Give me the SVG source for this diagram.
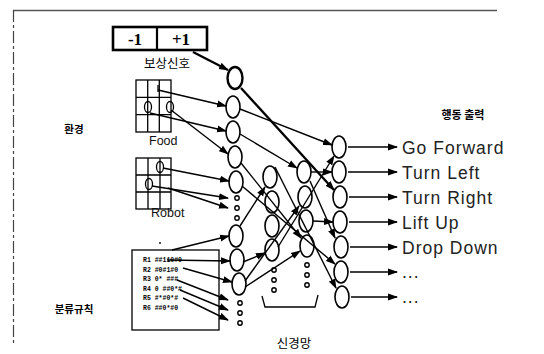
<svg xmlns="http://www.w3.org/2000/svg" width="544" height="354" viewBox="0 0 544 354">
<defs>
<marker id="ah" markerUnits="userSpaceOnUse" markerWidth="10" markerHeight="8" refX="9" refY="4" orient="auto">
<path d="M0,0.5 L10,4 L0,7.5 Z" fill="#000"/>
</marker>
<style>
.n{fill:#fff;stroke:#000;stroke-width:1.6}
.d{fill:#fff;stroke:#000;stroke-width:1.4}
.c line{stroke:#000;stroke-width:1.4;marker-end:url(#ah)}
.c line.t{stroke-width:2.3}
.k{font-family:"Noto Sans CJK KR","Noto Sans CJK SC",sans-serif;fill:#000}
.e{font-family:"Liberation Sans",Arial,sans-serif;fill:#111}
.o{font-family:"Liberation Sans",Arial,sans-serif;fill:#222;font-size:17.5px;letter-spacing:1px}
.g{fill:none;stroke:#000;stroke-width:1.3}
.r{font-family:"Liberation Mono",monospace;font-size:6.5px;fill:#000;font-weight:bold}
</style>
</defs>
<rect width="544" height="354" fill="#fff"/>
<g id="frame">
<line x1="13" y1="10.5" x2="497" y2="10.5" stroke="#555" stroke-width="1.5"/>
<line x1="13.5" y1="10" x2="13.5" y2="346" stroke="#444" stroke-width="1.2" stroke-dasharray="12 3 3 3"/>
</g>
<g id="reward">
<rect x="113" y="27" width="94" height="23" fill="#fff" stroke="#000" stroke-width="2.6"/>
<line x1="157" y1="27" x2="157" y2="50" stroke="#000" stroke-width="2.2"/>
<text x="135" y="45" text-anchor="middle" font-family="Liberation Serif,serif" font-weight="bold" font-size="17">-1</text>
<text x="181" y="45" text-anchor="middle" font-family="Liberation Serif,serif" font-weight="bold" font-size="17">+1</text>
<text class="k" x="167" y="68" text-anchor="middle" font-size="12.5">보상신호</text>
</g>
<g id="env-label"><text class="k" x="74" y="133" text-anchor="middle" font-size="10.5" font-weight="bold">환경</text></g>
<g id="rules-label"><text class="k" x="74" y="313" text-anchor="middle" font-size="10.5" font-weight="bold">분류규칙</text></g>
<g id="net-label"><text class="k" x="294" y="348" text-anchor="middle" font-size="12.5">신경망</text></g>
<g id="out-label"><text class="k" x="463" y="119" text-anchor="middle" font-size="11" font-weight="bold">행동 출력</text></g>
<g id="food">
<rect class="g" x="136" y="80" width="35" height="52"/>
<path class="g" d="M147.7,80V132M159.3,80V132M136,97.3H171M136,114.7H171"/>
<line x1="158" y1="85" x2="158" y2="92" stroke="#000" stroke-width="1.3"/>
<ellipse class="g" cx="148" cy="107" rx="3.5" ry="5.5"/>
<ellipse class="g" cx="170" cy="107" rx="3.5" ry="5.5"/>
<text class="e" x="149" y="145" font-size="12.5">Food</text>
</g>
<g id="robot">
<rect class="g" x="136" y="158" width="35" height="51"/>
<path class="g" d="M148,158V209M160,158V209M136,175H171M136,192H171"/>
<ellipse class="g" cx="160" cy="167" rx="3.5" ry="5.5"/>
<ellipse class="g" cx="149" cy="184" rx="3.5" ry="5.5"/>
<text class="e" x="151" y="217" font-size="12.5">Robot</text>
</g>
<g id="rules">
<circle cx="160" cy="243" r="0.9" fill="#000"/>
<rect x="132" y="250" width="87" height="80" fill="#fff" stroke="#000" stroke-width="1.3"/>
<text class="r" x="143" y="262">R1  ##110#0</text>
<text class="r" x="143" y="271.5">R2  #0#1#0</text>
<text class="r" x="143" y="281">R3  0* ###</text>
<text class="r" x="143" y="290.5">R4  0 ##0*#</text>
<text class="r" x="143" y="300">R5  #*#0*#</text>
<text class="r" x="143" y="309.5">R6  ##0*#0</text>
</g>
<g id="input-layer">
<ellipse id="n1" cx="235" cy="78" rx="7.5" ry="11" fill="#fff" stroke="#000" stroke-width="2.4"/>
<ellipse id="n2" class="n" cx="233" cy="107" rx="7" ry="11"/>
<ellipse id="n3" class="n" cx="233" cy="132" rx="7" ry="11"/>
<ellipse id="n4" class="n" cx="235" cy="157" rx="7" ry="11"/>
<ellipse id="n5" class="n" cx="236" cy="182" rx="7" ry="11"/>
<circle class="d" cx="237" cy="198" r="2.2"/><circle class="d" cx="237" cy="208" r="2.2"/><circle class="d" cx="237" cy="218" r="2.2"/>
<ellipse id="n6" class="n" cx="236" cy="236" rx="7" ry="11"/>
<ellipse id="n7" class="n" cx="237" cy="260" rx="7" ry="11"/>
<ellipse id="n8" class="n" cx="239" cy="284" rx="7" ry="11"/>
<circle class="d" cx="240" cy="303" r="2.2"/><circle class="d" cx="240" cy="313" r="2.2"/><circle class="d" cx="240" cy="323" r="2.2"/>
</g>
<g id="hidden-1">
<ellipse id="h1" class="n" cx="270" cy="177" rx="7" ry="11"/>
<ellipse id="h2" class="n" cx="272" cy="202" rx="7" ry="11"/>
<ellipse id="h3" class="n" cx="272" cy="226" rx="7" ry="11"/>
<ellipse id="h4" class="n" cx="272" cy="250" rx="7" ry="11"/>
<circle class="d" cx="274" cy="270" r="2.2"/><circle class="d" cx="274" cy="280" r="2.2"/><circle class="d" cx="274" cy="290" r="2.2"/>
</g>
<g id="hidden-2">
<ellipse id="k1" class="n" cx="304" cy="172" rx="7" ry="11"/>
<ellipse id="k2" class="n" cx="305" cy="197" rx="7" ry="11"/>
<ellipse id="k3" class="n" cx="306" cy="221" rx="7" ry="11"/>
<ellipse id="k4" class="n" cx="307" cy="246" rx="7" ry="11"/>
<circle class="d" cx="307" cy="265" r="2.2"/><circle class="d" cx="307" cy="275" r="2.2"/><circle class="d" cx="307" cy="285" r="2.2"/>
</g>
<g id="bracket"><path class="g" d="M262,296 L265,307 L315,307 L318,295"/></g>
<g id="output-layer">
<ellipse id="o1" class="n" cx="339" cy="147" rx="7" ry="11"/>
<ellipse id="o2" class="n" cx="339" cy="172" rx="7" ry="11"/>
<ellipse id="o3" class="n" cx="340" cy="197" rx="7" ry="11"/>
<ellipse id="o4" class="n" cx="340" cy="222" rx="7" ry="11"/>
<ellipse id="o5" class="n" cx="341" cy="247" rx="7" ry="11"/>
<ellipse id="o6" class="n" cx="341" cy="272" rx="7" ry="11"/>
<ellipse id="o7" class="n" cx="342" cy="297" rx="7" ry="11"/>
</g>
<g id="actions">
<text id="a1" class="o" x="402" y="154">Go Forward</text>
<text id="a2" class="o" x="402" y="179">Turn Left</text>
<text id="a3" class="o" x="402" y="204">Turn Right</text>
<text id="a4" class="o" x="402" y="229">Lift Up</text>
<text id="a5" class="o" x="402" y="254">Drop Down</text>
<text id="a6" class="o" x="402" y="278" font-size="13" letter-spacing="2">...</text>
<text id="a7" class="o" x="402" y="303" font-size="13" letter-spacing="2">...</text>
</g>
<g id="connectors" class="c">
<line class="t" x1="193" y1="52" x2="228" y2="70"/>
<line class="t" x1="241" y1="88" x2="334" y2="190"/>
<line x1="240" y1="109" x2="332" y2="145"/>
<line x1="240" y1="134" x2="297" y2="168"/>
<line x1="241" y1="163" x2="301" y2="238"/>
<line x1="242" y1="186" x2="335" y2="264"/>
<line x1="275" y1="167" x2="336" y2="288"/>
<line x1="240" y1="226" x2="265" y2="187"/>
<line x1="243" y1="262" x2="265" y2="253"/>
<line x1="245" y1="287" x2="300" y2="251"/>
<line x1="245" y1="281" x2="299" y2="206"/>
<line x1="313" y1="221" x2="333" y2="222"/>
<line x1="278" y1="247" x2="334" y2="156"/>
<line x1="310" y1="181" x2="335" y2="238"/>
<line x1="311" y1="172" x2="332" y2="172"/>
<line x1="158" y1="90" x2="226" y2="106"/>
<line x1="150" y1="113" x2="226" y2="131"/>
<line x1="171" y1="110" x2="228" y2="154"/>
<line x1="163" y1="168" x2="229" y2="181"/>
<line x1="152" y1="186" x2="228" y2="198"/>
<line x1="168" y1="188" x2="228" y2="208"/>
<line x1="172" y1="250" x2="229" y2="236"/>
<line x1="167" y1="260" x2="230" y2="261"/>
<line x1="183" y1="268" x2="232" y2="282"/>
<line x1="177" y1="280" x2="228" y2="300"/>
<line x1="180" y1="290" x2="228" y2="310"/>
<line x1="183" y1="298" x2="228" y2="320"/>
<line x1="348" y1="147" x2="397" y2="147"/>
<line x1="348" y1="172" x2="397" y2="172"/>
<line x1="349" y1="197" x2="397" y2="197"/>
<line x1="349" y1="222" x2="397" y2="222"/>
<line x1="350" y1="247" x2="397" y2="247"/>
<line x1="350" y1="272" x2="397" y2="272"/>
<line x1="351" y1="297" x2="397" y2="297"/>
</g>
</svg>
